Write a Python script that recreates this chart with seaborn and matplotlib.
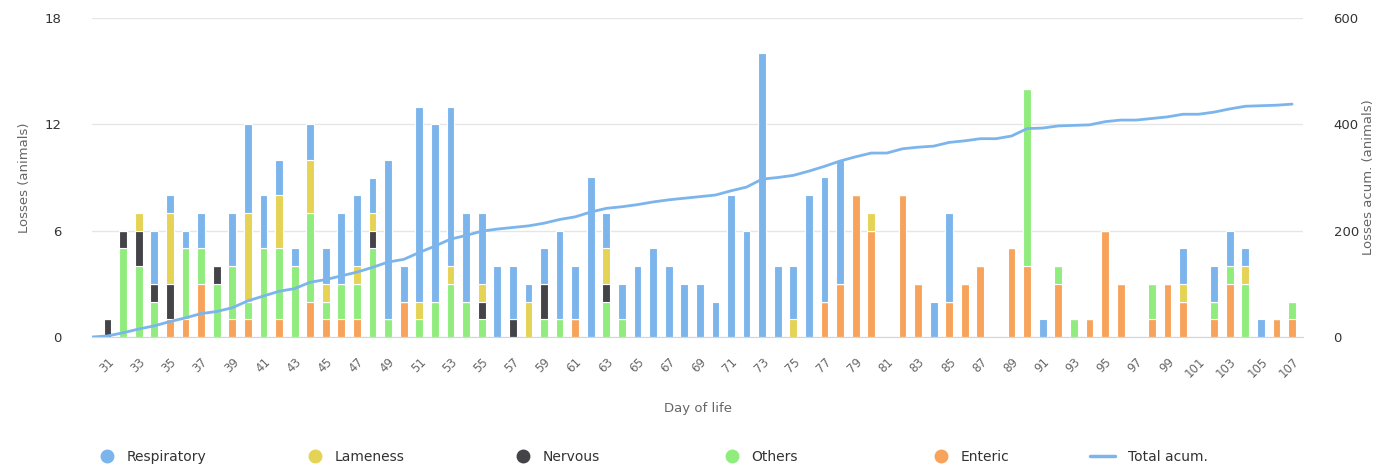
import numpy as np
import pandas as pd
import seaborn as sns
import matplotlib.pyplot as plt
from matplotlib.lines import Line2D

sns.set_style("white")
plt.rcParams['font.family'] = ['DejaVu Sans']

# day of life 31..107
days = list(range(31, 108))

# losses per day and cause (rows of 10 days)
respiratory = [0, 0, 0, 3, 1, 1, 2, 0, 3, 5,
               3, 2, 1, 2, 2, 4, 4, 2, 9, 2,
               11, 10, 9, 5, 4, 4, 3, 1, 2, 5,
               3, 9, 2, 2, 4, 5, 4, 3, 3, 2,
               8, 6, 16, 4, 3, 8, 7, 7, 0, 0,
               0, 0, 0, 2, 5, 0, 0, 0, 0, 0,
               1, 0, 0, 0, 0, 0, 0, 0, 0, 2,
               0, 2, 2, 1, 1, 0, 0]
lameness = [0, 0, 1, 0, 4, 0, 0, 0, 0, 5,
            0, 3, 0, 3, 1, 0, 1, 1, 0, 0,
            1, 0, 1, 0, 1, 0, 0, 2, 0, 0,
            0, 0, 2, 0, 0, 0, 0, 0, 0, 0,
            0, 0, 0, 0, 1, 0, 0, 0, 0, 1,
            0, 0, 0, 0, 0, 0, 0, 0, 0, 0,
            0, 0, 0, 0, 0, 0, 0, 0, 0, 1,
            0, 0, 0, 1, 0, 0, 0]
nervous = [1, 1, 2, 1, 2, 0, 0, 1, 0, 0,
           0, 0, 0, 0, 0, 0, 0, 1, 0, 0,
           0, 0, 0, 0, 1, 0, 1, 0, 2, 0,
           0, 0, 1, 0, 0, 0, 0, 0, 0, 0,
           0, 0, 0, 0, 0, 0, 0, 0, 0, 0,
           0, 0, 0, 0, 0, 0, 0, 0, 0, 0,
           0, 0, 0, 0, 0, 0, 0, 0, 0, 0,
           0, 0, 0, 0, 0, 0, 0]
others = [0, 5, 4, 2, 0, 4, 2, 3, 3, 1,
          5, 4, 4, 5, 1, 2, 2, 5, 1, 0,
          1, 2, 3, 2, 1, 0, 0, 0, 1, 1,
          0, 0, 2, 1, 0, 0, 0, 0, 0, 0,
          0, 0, 0, 0, 0, 0, 0, 0, 0, 0,
          0, 0, 0, 0, 0, 0, 0, 0, 0, 10,
          0, 1, 1, 0, 0, 0, 0, 2, 0, 0,
          0, 1, 1, 3, 0, 0, 1]
enteric = [0, 0, 0, 0, 1, 1, 3, 0, 1, 1,
           0, 1, 0, 2, 1, 1, 1, 0, 0, 2,
           0, 0, 0, 0, 0, 0, 0, 0, 0, 0,
           1, 0, 0, 0, 0, 0, 0, 0, 0, 0,
           0, 0, 0, 0, 0, 0, 2, 3, 8, 6,
           0, 8, 3, 0, 2, 3, 4, 0, 5, 4,
           0, 3, 0, 1, 6, 3, 0, 1, 3, 2,
           0, 1, 3, 0, 0, 1, 1]

# accumulated losses (day 30..107)
acum_days = list(range(30, 108))
total_acum = [0, 2, 8, 15, 21, 29, 36, 44, 48, 55, 68,
              77, 86, 91, 103, 108, 115, 122, 131, 141, 146,
              159, 171, 184, 191, 199, 203, 206, 209, 214, 221,
              226, 235, 242, 245, 249, 254, 258, 261, 264, 267,
              275, 282, 297, 300, 304, 312, 321, 331, 339, 346,
              346, 354, 357, 359, 366, 369, 373, 373, 378, 392,
              393, 397, 398, 399, 405, 408, 408, 411, 414, 419,
              419, 423, 429, 434, 435, 436, 438]

causes = ["Respiratory", "Lameness", "Nervous", "Others", "Enteric"]
colors = ["#7cb5ec", "#e4d354", "#434348", "#90ed7d", "#f7a35c"]

wide = pd.DataFrame({"day": days, "Respiratory": respiratory, "Lameness": lameness,
                     "Nervous": nervous, "Others": others, "Enteric": enteric})
long = wide.melt(id_vars="day", var_name="cause", value_name="losses")
long = long[long["losses"] > 0]
acum = pd.DataFrame({"day": acum_days, "total": total_acum})

fig = plt.figure(figsize=(13.8, 4.69), dpi=100)
ax = fig.add_axes([92/1380, 1-337/469, (1303-92)/1380, (337-18)/469])

# stacked bars: last hue level ends up at the bottom
sns.histplot(data=long, x="day", weights="losses", hue="cause", hue_order=causes,
             palette=colors, multiple="stack", discrete=True, shrink=0.5, alpha=1,
             edgecolor="white", linewidth=0.8, legend=False, ax=ax)

ax.set_xlim(30, 107.7)
ax.set_ylim(0, 18)
ax.set_yticks([0, 6, 12, 18])
ax.set_xticks(days[::2])
ax.set_xticklabels([str(d) for d in days[::2]], rotation=45, ha="right",
                   rotation_mode="anchor", color="#666666", fontsize=8.5)
ax.tick_params(axis="x", length=0, pad=13)
ax.tick_params(axis="y", length=0, pad=22, labelsize=9.5, labelcolor="#333333")
ax.grid(axis="y", color="#e6e6e6", linewidth=1)
ax.set_axisbelow(True)
for s in ["top", "right", "left"]:
    ax.spines[s].set_visible(False)
ax.spines["bottom"].set_color("#ccd6eb")
ax.set_xlabel("Day of life", color="#666666", fontsize=9.5, labelpad=16)
ax.set_ylabel("Losses (animals)", color="#666666", fontsize=9.5, labelpad=10)

ax2 = ax.twinx()
sns.lineplot(data=acum, x="day", y="total", color="#7cb5ec", linewidth=2, ax=ax2)
ax2.set_ylim(0, 600)
ax2.set_yticks([0, 200, 400, 600])
ax2.tick_params(axis="y", length=0, pad=22, labelsize=9.5, labelcolor="#333333")
for s in ["top", "right", "left", "bottom"]:
    ax2.spines[s].set_visible(False)
ax2.set_ylabel("Losses acum. (animals)", color="#666666", fontsize=9.5, labelpad=2)
ax2.set_xlim(30, 107.7)

# legend items spread across the bottom
handles = [Line2D([], [], marker="o", linestyle="none", markersize=9,
                  markerfacecolor=c, markeredgecolor=c) for c in colors]
handles.append(Line2D([], [], color="#7cb5ec", linewidth=2.5))
labels = causes + ["Total acum."]
xs = [100, 308, 516, 725, 934, 1090]
for h, lab, x in zip(handles, labels, xs):
    hl = 1.0 if lab != "Total acum." else 1.8
    fig.legend(handles=[h], labels=[lab], loc="center left",
               bbox_to_anchor=(x/1380, 1-457/469), frameon=False,
               borderpad=0, borderaxespad=0, handlelength=hl, handletextpad=0.9,
               prop={"size": 10}, labelcolor="#333333")

fig.savefig("out.png", dpi=100)
